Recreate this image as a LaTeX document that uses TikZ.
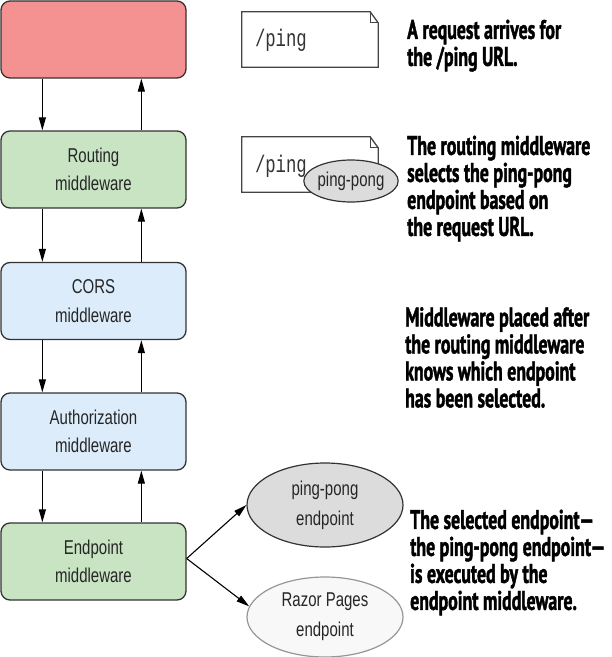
\documentclass[tikz,border=0pt]{standalone}
\usepackage{fontspec}
\usetikzlibrary{shapes.geometric,arrows.meta}
\newfontfamily\boxfont{Liberation Sans}[FakeStretch=0.75]
\newfontfamily\notefont{PT Sans}[FakeStretch=0.66, BoldFeatures={FakeBold=1.5}]
\newfontfamily\docfont{Liberation Mono}[FakeStretch=0.72]
\definecolor{redc}{HTML}{F49191}
\definecolor{greenc}{HTML}{C8E4C3}
\definecolor{bluec}{HTML}{DCECFA}
\definecolor{grayc}{HTML}{DCDCDC}
\definecolor{lightc}{HTML}{F8F8F8}
\definecolor{ellgray}{HTML}{969696}
\definecolor{bordc}{HTML}{333333}
\definecolor{docc}{HTML}{444444}
\tikzset{
  mw/.style={draw=bordc, line width=1.3pt, rounded corners=9pt, minimum width=185pt,
    minimum height=77pt, align=center, inner sep=0pt,
    font=\boxfont\fontsize{20}{28.5}\selectfont, text=black!85},
  ell/.style={ellipse, draw=bordc, line width=1.2pt, minimum width=156pt, minimum height=84pt,
    inner sep=0pt, align=center, font=\boxfont\fontsize{20}{30}\selectfont, text=black!85},
  note/.style={anchor=north west, inner sep=0pt, align=left,
    font=\notefont\bfseries\fontsize{27}{27}\selectfont},
  arr/.style={line width=1.1pt, draw=black, -{Triangle[length=13pt,width=7pt]}},
  docarea/.style={minimum width=136pt, minimum height=55pt, inner sep=0pt},
  docline/.style={draw=docc, line width=1.3pt, line join=miter},
  doctext/.style={anchor=west, inner sep=0pt, font=\docfont\fontsize{24}{24}\selectfont, text=black!80}
}
\begin{document}
\begin{tikzpicture}[x=1pt,y=-1pt]
\useasboundingbox (0,0) rectangle (612,657);
% middleware column
\node[mw, fill=redc] (b1) at (93.5,39.5) {};
\node[mw, fill=greenc] (b2) at (93.5,169.5) {Routing\\middleware};
\node[mw, fill=bluec] (b3) at (93.5,301) {CORS\\middleware};
\node[mw, fill=bluec] (b4) at (93.5,431.5) {Authorization\\middleware};
\node[mw, fill=greenc] (b5) at (93.5,561.5) {Endpoint\\middleware};
% vertical arrows
\draw[arr] ([xshift=42pt]b1.south west) -- ([xshift=42pt]b2.north west);
\draw[arr] ([xshift=141pt]b2.north west) -- ([xshift=141pt]b1.south west);
\draw[arr] ([xshift=42pt]b2.south west) -- ([xshift=42pt]b3.north west);
\draw[arr] ([xshift=141pt]b3.north west) -- ([xshift=141pt]b2.south west);
\draw[arr] ([xshift=42pt]b3.south west) -- ([xshift=42pt]b4.north west);
\draw[arr] ([xshift=141pt]b4.north west) -- ([xshift=141pt]b3.south west);
\draw[arr] ([xshift=42pt]b4.south west) -- ([xshift=42pt]b5.north west);
\draw[arr] ([xshift=141pt]b5.north west) -- ([xshift=141pt]b4.south west);
% endpoints
\node[ell, fill=grayc] (pp) at (325,505) {ping-pong\\endpoint};
\node[ell, fill=lightc, draw=ellgray, minimum height=80pt] (rz) at (325,617) {Razor Pages\\endpoint};
\coordinate (src) at ([yshift=3pt]b5.east);
\draw[arr] (src) -- (pp.west);
\draw[arr] (src) -- (rz.172);
% documents
\node[docarea] (d1) at (310,39.5) {};
\fill[white] (d1.south west) -- (d1.north west) -- ([xshift=-8pt]d1.north east) -- ([yshift=-11pt]d1.north east) -- (d1.south east) -- cycle;
\draw[docline] (d1.south west) -- (d1.north west) -- ([xshift=-8pt]d1.north east) -- ([yshift=-11pt]d1.north east) -- (d1.south east) -- cycle;
\draw[docline] ([xshift=-8pt]d1.north east) -- ([xshift=-8pt,yshift=-11pt]d1.north east) -- ([yshift=-11pt]d1.north east);
\node[doctext] (p1) at ([xshift=13pt,yshift=-1pt]d1.west) {/ping};
\node[docarea] (d2) at (310,164.5) {};
\fill[white] (d2.south west) -- (d2.north west) -- ([xshift=-8pt]d2.north east) -- ([yshift=-11pt]d2.north east) -- (d2.south east) -- cycle;
\draw[docline] (d2.south west) -- (d2.north west) -- ([xshift=-8pt]d2.north east) -- ([yshift=-11pt]d2.north east) -- (d2.south east) -- cycle;
\draw[docline] ([xshift=-8pt]d2.north east) -- ([xshift=-8pt,yshift=-11pt]d2.north east) -- ([yshift=-11pt]d2.north east);
\node[doctext] (p2) at ([xshift=13pt,yshift=-2pt]d2.west) {/ping};
\node[ellipse, draw=bordc, line width=1.2pt, fill=grayc, minimum width=84pt, minimum height=42pt,
  inner sep=0pt, font=\boxfont\fontsize{20}{29}\selectfont, text=black!85] (pp2) at (351,181) {ping-pong};
% notes
\node[note] (n1) at (407,19.5) {A request arrives for\\the /ping URL.};
\node[note] (n2) at (407,135.5) {The routing middleware\\selects the ping-pong\\endpoint based on\\the request URL.};
\node[note] (n3) at (405,307) {Middleware placed after\\the routing middleware\\knows which endpoint\\has been selected.};
\node[note] (n4) at (410,509.5) {The selected endpoint\textemdash\\the ping-pong endpoint\textemdash\\is executed by the\\endpoint middleware.};
\end{tikzpicture}
\end{document}
